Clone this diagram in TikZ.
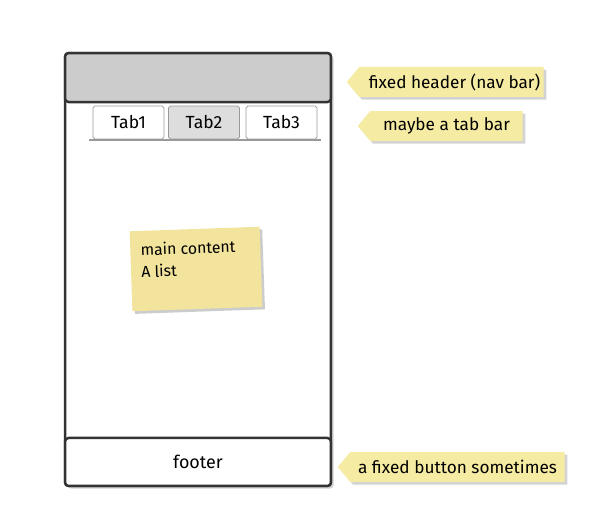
\documentclass[tikz,border=0pt]{standalone}
\usepackage{fontspec}
\setmainfont{Fira Sans}
\usetikzlibrary{shapes.symbols, shadows}
\definecolor{FrameGray}{HTML}{333333}
\definecolor{HeaderGray}{HTML}{CCCCCC}
\definecolor{TabGray}{HTML}{DDDDDD}
\definecolor{TabLine}{HTML}{999999}
\definecolor{NoteYellow}{HTML}{F2E49C}
\definecolor{CalloutYellow}{HTML}{F6EBA2}
\tikzset{
  phonebox/.style={rectangle, draw=FrameGray, line width=1.4pt, fill=white,
                rounded corners=2pt, minimum width=5.32cm, minimum height=8.66cm,
                drop shadow={shadow xshift=1.5pt, shadow yshift=-1.5pt, opacity=0.35}},
  headerbox/.style={rectangle, draw=FrameGray, line width=1.4pt, fill=HeaderGray,
                rounded corners=2pt, minimum width=5.32cm, minimum height=0.98cm},
  footerbox/.style={rectangle, draw=FrameGray, line width=1.4pt, fill=white,
                rounded corners=2pt, minimum width=5.32cm, minimum height=0.96cm,
                font=\fontsize{10.2}{12}\selectfont},
  tabbox/.style={rectangle, draw=TabLine, thin, fill=#1, rounded corners=1pt,
                minimum width=1.42cm, minimum height=0.66cm,
                font=\fontsize{10}{12}\selectfont},
  tabline/.style={draw=TabLine, line width=1.1pt},
  notebox/.style={rectangle, fill=NoteYellow, rotate=2, minimum width=2.6cm,
                minimum height=1.6cm,
                drop shadow={shadow xshift=1.5pt, shadow yshift=-1.5pt, opacity=0.4}},
  notetext/.style={align=left, anchor=north west, rotate=2, inner sep=0pt,
                font=\fontsize{9}{12.5}\selectfont},
  callout/.style={signal, signal to=west, signal pointer angle=100,
                fill=CalloutYellow, minimum height=0.6cm, minimum width=#1,
                inner xsep=2pt, font=\fontsize{9.8}{11}\selectfont,
                drop shadow={shadow xshift=1.5pt, shadow yshift=-1.5pt, opacity=0.35}},
}

\begin{document}
\begin{tikzpicture}[x=0.02cm, y=-0.02cm]
    % Coordinate map (pixels, y down):
    % (phone)   x 65..331, y 53..486
    % (header)  x 65..331, y 53..102
    % (tab1..3) y 106..139, bar line at y 140
    % (footer)  x 65..331, y 438..486
    % callouts at right, pointing west
    \useasboundingbox (0,0) rectangle (602,530);

    \node[phonebox] (phone) at (198, 269.5) {};
    \node[headerbox, anchor=north] (header) at (phone.north) {};
    \node[footerbox, anchor=south] (footer) at (phone.south) {footer};

    \node[tabbox=white] (tab1) at (128.5, 122.5) {Tab1};
    \node[tabbox=TabGray] (tab2) at (204, 122.5) {Tab2};
    \node[tabbox=white] (tab3) at (281.5, 122.5) {Tab3};
    \coordinate (barL) at (89, 140);
    \coordinate (barR) at (321, 140);
    \draw[tabline] (barL) -- (barR);

    \node[notebox] (note) at (196, 269) {};
    \node[notetext] (notelabel) at (140, 243) {main content\\A list};

    \node[callout=3.9cm] (headnote) at (451.5, 82) {\hspace{3.4pt}fixed header (nav bar)};
    \node[callout=3.3cm] (tabnote) at (446.5, 126) {maybe a tab bar\hspace{5pt}};
    \node[callout=4.54cm] (footnote) at (457.5, 467) {a fixed button sometimes\hspace{3.4pt}};
\end{tikzpicture}
\end{document}
